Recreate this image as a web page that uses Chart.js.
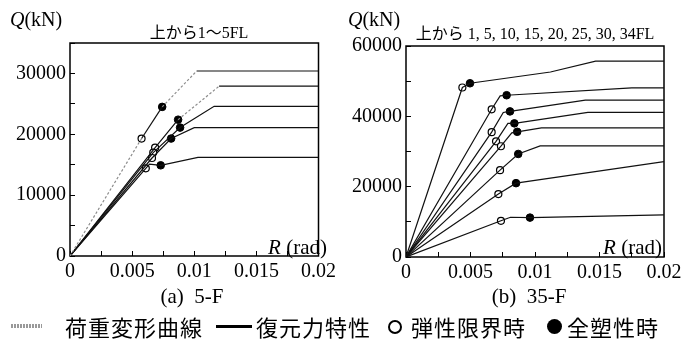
<!DOCTYPE html>
<html>
<head>
<meta charset="utf-8">
<script src="https://cdn.jsdelivr.net/npm/chart.js@4/dist/chart.umd.min.js"></script>
<style>
body { margin: 0; width: 698px; height: 345px; background: #fff; position: relative; overflow: hidden; color: #000; font-family: "Liberation Serif", "Noto Sans CJK JP", serif; }
canvas { position: absolute; top: 0; }
#c5 { left: 0; }
#c35 { left: 345px; }
.t { position: absolute; white-space: nowrap; line-height: 1; }
.ax { font-size: 20px; }
.ttl { font-size: 16px; text-align: center; }
.cap { font-size: 21px; text-align: center; }
.lg { position: absolute; top: 315px; font-family: "Noto Sans CJK JP", sans-serif; font-size: 22px; line-height: 22px; letter-spacing: 1px; white-space: nowrap; }
</style>
</head>
<body>
<canvas id="c5" width="345" height="300"></canvas>
<canvas id="c35" width="353" height="300"></canvas>

<div class="t ax" style="left:10px;top:9px"><i>Q</i>(kN)</div>
<div class="t ax" style="left:348px;top:9px"><i>Q</i>(kN)</div>
<div class="t ttl" style="left:99px;top:25px;width:200px">上から1～5FL</div>
<div class="t ttl" style="left:405px;top:26px;width:260px">上から 1, 5, 10, 15, 20, 25, 30, 34FL</div>
<div class="t ax" style="left:206px;top:237px;width:121px;text-align:right;font-size:21px"><i>R</i> (rad)</div>
<div class="t ax" style="left:541px;top:237px;width:121px;text-align:right;font-size:21px"><i>R</i> (rad)</div>
<div class="t cap" style="left:92px;top:286px;width:200px">(a)&nbsp;&nbsp;5-F</div>
<div class="t cap" style="left:429px;top:286px;width:200px">(b)&nbsp;&nbsp;35-F</div>

<div style="position:absolute;left:11px;top:324px;width:31px;height:4px;background:repeating-linear-gradient(90deg,#999 0 2px,#fff 2px 3px)"></div>
<div class="lg" style="left:65px">荷重変形曲線</div>
<div style="position:absolute;left:216px;top:325px;width:36px;height:3px;background:#000"></div>
<div class="lg" style="left:256px">復元力特性</div>
<div style="position:absolute;left:388px;top:320px;width:10px;height:10px;border:2px solid #000;border-radius:50%"></div>
<div class="lg" style="left:411px">弾性限界時</div>
<div style="position:absolute;left:547px;top:319px;width:15px;height:15px;background:#000;border-radius:50%"></div>
<div class="lg" style="left:567px">全塑性時</div>

<script>
// tick labels
const xTicks = [0, 0.005, 0.01, 0.015, 0.02];
const yTicks5 = [0, 10000, 20000, 30000];
const yTicks35 = [0, 20000, 40000, 60000];

// (a) 5-F, 上から 1～5FL : restoring force skeletons [R, Q]
const skel5 = [
    [[0, 0], [0.0102, 30400], [0.02, 30400]],
    [[0, 0], [0.0120, 27900], [0.02, 27900]],
    [[0, 0], [0.0116, 24600], [0.02, 24600]],
    [[0, 0], [0.0100, 21100], [0.02, 21100]],
    [[0, 0], [0.0064, 15100], [0.0103, 16200], [0.02, 16200]]
];
const elastic5 = [[0.00576, 19300], [0.00685, 17800], [0.0067, 17000], [0.0066, 16100], [0.0061, 14400]];
const plastic5 = [[0.00742, 24500], [0.0087, 22400], [0.00886, 21100], [0.00814, 19300], [0.0073, 14900]];

// (b) 35-F, 上から 1, 5, 10, 15, 20, 25, 30, 34FL
const skel35 = [
    [[0, 0], [0.0112, 52600], [0.0147, 55700], [0.02, 55700]],
    [[0, 0], [0.0073, 45800], [0.0175, 48100], [0.02, 48100]],
    [[0, 0], [0.00754, 41100], [0.0139, 44600], [0.02, 44600]],
    [[0, 0], [0.0079, 38000], [0.0141, 41100], [0.02, 41100]],
    [[0, 0], [0.0082, 35300], [0.0105, 36700], [0.02, 36700]],
    [[0, 0], [0.0104, 31600], [0.02, 31600]],
    [[0, 0], [0.02, 27100]],
    [[0, 0], [0.0081, 11300], [0.02, 12000]]
];
const elastic35 = [[0.00437, 48200], [0.00664, 42000], [0.00664, 35500], [0.00698, 32900], [0.00736, 31500], [0.00729, 24700], [0.00716, 17900], [0.00736, 10300]];
const plastic35 = [[0.00496, 49400], [0.0078, 46000], [0.00806, 41400], [0.0084, 38000], [0.00862, 35600], [0.0087, 29300], [0.00853, 21000], [0.00961, 11200]];

const serif = '"Liberation Serif", serif';

function pts(list) {
    return list.map(([x, y]) => ({ x, y }));
}

function curveData(skel, e, p) {
    return pts(skel.concat([e, p]).sort((a, b) => a[0] - b[0]));
}

// box around the plot area
const framePlugin = {
    id: 'frame',
    beforeDatasetsDraw(chart) {
        const a = chart.chartArea, ctx = chart.ctx;
        ctx.save();
        ctx.strokeStyle = '#000';
        ctx.lineWidth = 1.5;
        ctx.strokeRect(a.left, a.top, a.right - a.left, a.bottom - a.top);
        ctx.restore();
    }
};

function makeChart(id, cfg) {
    const datasets = cfg.skel.map((s, i) => {
        const dashed = cfg.dashed[i] || [];
        return {
            data: curveData(s, cfg.elastic[i], cfg.plastic[i]),
            showLine: true,
            borderColor: '#111',
            borderWidth: 1.2,
            pointRadius: 0,
            segment: {
                borderDash: c => dashed.includes(c.p0DataIndex) ? [2.5, 2] : undefined,
                borderColor: c => dashed.includes(c.p0DataIndex) ? '#8c8c8c' : undefined
            }
        };
    });
    datasets.push({
        data: pts(cfg.elastic),
        pointRadius: 3.5,
        pointBackgroundColor: '#fff',
        pointBorderColor: '#000',
        pointBorderWidth: 1.2
    });
    datasets.push({
        data: pts(cfg.plastic),
        pointRadius: 3.8,
        pointBackgroundColor: '#000',
        pointBorderColor: '#000',
        pointBorderWidth: 1
    });

    return new Chart(document.getElementById(id), {
        type: 'scatter',
        data: { datasets },
        options: {
            responsive: false,
            animation: false,
            layout: { padding: cfg.padding },
            plugins: { legend: { display: false }, tooltip: { enabled: false } },
            scales: {
                x: {
                    type: 'linear', min: 0, max: 0.02,
                    border: { display: false },
                    grid: { drawOnChartArea: false, tickLength: -5, color: '#000' },
                    ticks: {
                        stepSize: 0.0025, autoSkip: false, maxRotation: 0, padding: 9,
                        color: '#000', font: { family: serif, size: 20 },
                        callback: v => {
                            const hit = xTicks.find(t => Math.abs(t - v) < 1e-9);
                            return hit === undefined ? '' : String(hit);
                        }
                    },
                    afterFit: s => { s.height = 30; }
                },
                y: {
                    type: 'linear', min: 0, max: cfg.yMax,
                    border: { display: false },
                    grid: { drawOnChartArea: false, tickLength: -5, color: '#000' },
                    ticks: {
                        stepSize: cfg.yStep, autoSkip: false, padding: 9,
                        color: '#000', font: { family: serif, size: 20 },
                        callback: v => cfg.yTicks.includes(v) ? String(v) : ''
                    },
                    afterFit: s => { s.width = cfg.yWidth; }
                }
            }
        },
        plugins: [framePlugin]
    });
}

makeChart('c5', {
    skel: skel5, elastic: elastic5, plastic: plastic5,
    dashed: { 0: [0, 2], 1: [2] },
    yMax: 35000, yStep: 5000, yTicks: yTicks5, yWidth: 70,
    padding: { top: 43, right: 17, bottom: 14, left: 0 }
});

makeChart('c35', {
    skel: skel35, elastic: elastic35, plastic: plastic35,
    dashed: {},
    yMax: 60000, yStep: 10000, yTicks: yTicks35, yWidth: 61,
    padding: { top: 46, right: 34, bottom: 13, left: 0 }
});
</script>
</body>
</html>
